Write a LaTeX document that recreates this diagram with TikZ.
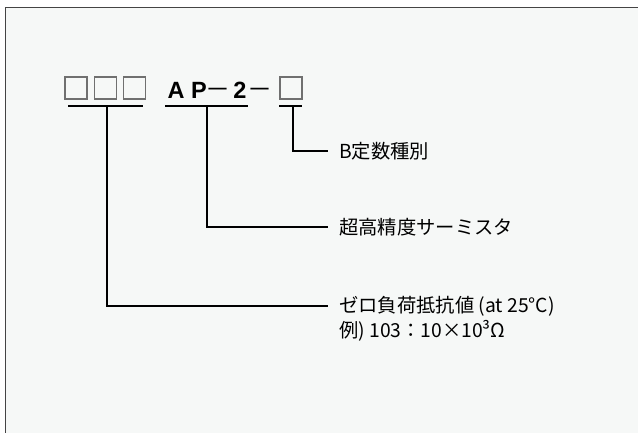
\documentclass[tikz,border=0pt]{standalone}
\usepackage{fontspec}
\setmainfont{Noto Sans CJK JP}
\newfontfamily\apfont{Liberation Sans}
\definecolor{bg}{HTML}{F6F8F7}
\definecolor{framec}{HTML}{444444}
\definecolor{boxc}{HTML}{707070}
\begin{document}
\begin{tikzpicture}[x=1pt,y=-1pt,
  frame/.style={draw=framec,line width=1.4pt},
  sq/.style={draw=boxc,line width=1.1pt,minimum size=22pt,inner sep=0pt},
  ap/.style={font=\apfont\bfseries\fontsize{23.5}{23.5}\selectfont,inner sep=0pt,anchor=base},
  apdash/.style={font=\fontsize{25}{25}\selectfont,inner sep=0pt,anchor=base},
  uline/.style={draw=black,line width=2.4pt},
  conn/.style={draw=black,line width=1.1pt,shorten >=9pt},
  lbl/.style={font=\fontsize{19.3}{25}\selectfont,anchor=west,inner sep=2pt}]
\useasboundingbox (0,0) rectangle (638,432);
\fill[white] (0,0) rectangle (638,432);
\fill[bg] (5.5,7.5) rectangle (640,434);
\draw[frame] (5.5,436) -- (5.5,7.5) -- (640,7.5);
% code boxes
\node[sq] (b1) at (76,88) {};
\node[sq] (b2) at (105.5,88) {};
\node[sq] (b3) at (134.5,88) {};
\node[ap] (cA) at (176,98) {A};
\node[ap] (cP) at (199,98) {P};
\node[apdash] (cd1) at (218,98) {－};
\node[ap] (c2) at (240,98) {2};
\node[apdash] (cd2) at (260,98) {－};
\node[sq] (b4) at (291,88) {};
% underlines
\coordinate (u1a) at (68,106);
\coordinate (u1b) at (143,106);
\coordinate (u2a) at (165,106);
\coordinate (u2b) at (248,106);
\coordinate (u3a) at (279,106);
\coordinate (u3b) at (302,106);
\draw[uline] (u1a) -- (u1b);
\draw[uline] (u2a) -- (u2b);
\draw[uline] (u3a) -- (u3b);
\coordinate (t1) at (107,106);
\coordinate (t2) at (207,106);
\coordinate (t3) at (293,106);
% labels
\node[lbl] (bconst) at (337,151) {B定数種別};
\node[lbl] (ultra) at (337,227) {超高精度サーミスタ};
\node[lbl] (zero1) at (337,306) {ゼロ負荷抵抗値 (at 25°C)};
\node[lbl] (zero2) at (337,331) {例) 103：10×10³Ω};
% connectors
\draw[conn] (t3) |- (bconst.west);
\draw[conn] (t2) |- (ultra.west);
\draw[conn] (t1) |- (zero1.west);
\end{tikzpicture}
\end{document}
